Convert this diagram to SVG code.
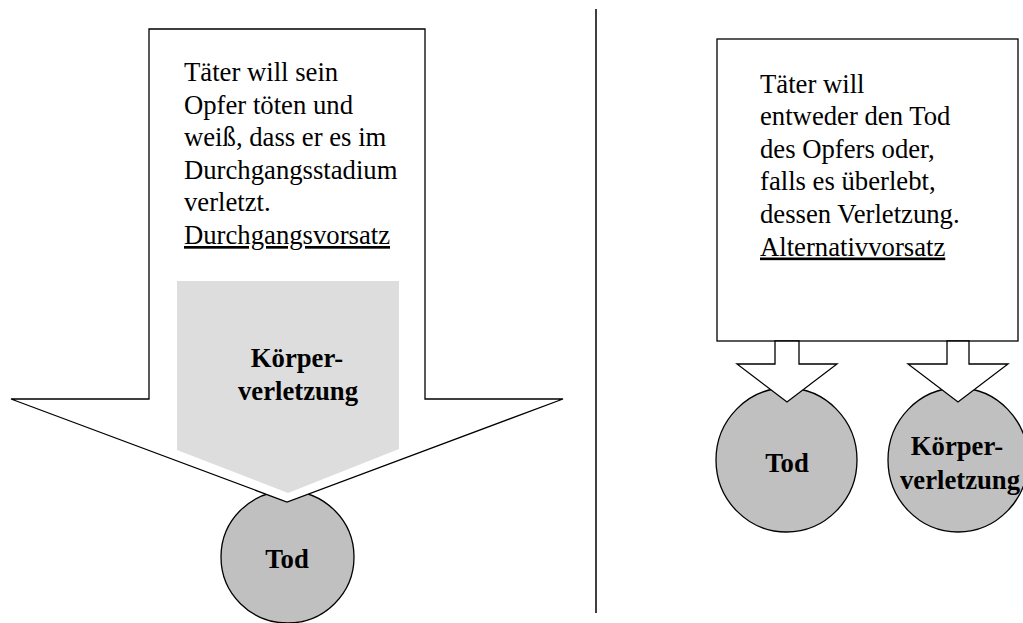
<svg xmlns="http://www.w3.org/2000/svg" width="1023" height="623" viewBox="0 0 1023 623">
<style>
  .txt { font-family: "Liberation Serif", "Times New Roman", serif; font-size: 26.7px; fill: #000; }
  .bold { font-weight: bold; }
  .outline { stroke: #000; stroke-width: 1.3; stroke-linejoin: miter; }
  .white { fill: #fff; }
  .circle { fill: #c0c0c0; stroke: #000; stroke-width: 1.3; }
  .band { fill: #dddddd; }
</style>
<rect width="1023" height="623" fill="#fff"/>

<!-- Left side -->
<g id="tod-left">
  <ellipse class="circle" cx="287.5" cy="557" rx="66.5" ry="66"/>
  <text class="txt bold" x="287" y="568" text-anchor="middle">Tod</text>
</g>
<g id="durchgangsvorsatz">
  <polygon class="outline white" points="149,29 425,29 425,399 563,399 287,502 11,399 149,399"/>
  <text class="txt" x="184" y="81">Täter will sein</text>
  <text class="txt" x="184" y="113.6">Opfer töten und</text>
  <text class="txt" x="184" y="146.2">weiß, dass er es im</text>
  <text class="txt" x="184" y="178.8">Durchgangsstadium</text>
  <text class="txt" x="184" y="211.4">verletzt.</text>
  <text class="txt" x="184" y="244" text-decoration="underline">Durchgangsvorsatz</text>
</g>
<g id="koerperverletzung-left">
  <polygon class="band" points="177,281 399,281 399,449 288,493 177,450"/>
  <text class="txt bold" x="297" y="367" text-anchor="middle">Körper-</text>
  <text class="txt bold" x="298" y="400" text-anchor="middle">verletzung</text>
</g>

<!-- Divider -->
<g id="divider">
  <line x1="596" y1="9" x2="596" y2="613" stroke="#000" stroke-width="1.5"/>
</g>

<!-- Right side -->
<g id="alternativvorsatz">
  <rect class="outline white" x="717" y="39" width="301" height="302"/>
  <text class="txt" x="760" y="92.5">Täter will</text>
  <text class="txt" x="760" y="125">entweder den Tod</text>
  <text class="txt" x="760" y="157.7">des Opfers oder,</text>
  <text class="txt" x="760" y="190.3">falls es überlebt,</text>
  <text class="txt" x="760" y="222.9">dessen Verletzung.</text>
  <text class="txt" x="760" y="255.5" text-decoration="underline">Alternativvorsatz</text>
</g>
<g id="tod-right">
  <ellipse class="circle" cx="786.5" cy="460" rx="70.5" ry="72"/>
  <text class="txt bold" x="787" y="472" text-anchor="middle">Tod</text>
</g>
<g id="koerperverletzung-right">
  <ellipse class="circle" cx="958" cy="460" rx="70" ry="72"/>
  <text class="txt bold" x="957" y="455" text-anchor="middle">Körper-</text>
  <text class="txt bold" x="960" y="489" text-anchor="middle">verletzung</text>
</g>

<g id="connectors">
  <polygon class="outline white" points="775,341 799,341 799,364 837,364 787,402 737,364 775,364"/>
  <polygon class="outline white" points="947,341 969,341 969,364 1008,364 958,402 908,364 947,364"/>
</g>
</svg>
